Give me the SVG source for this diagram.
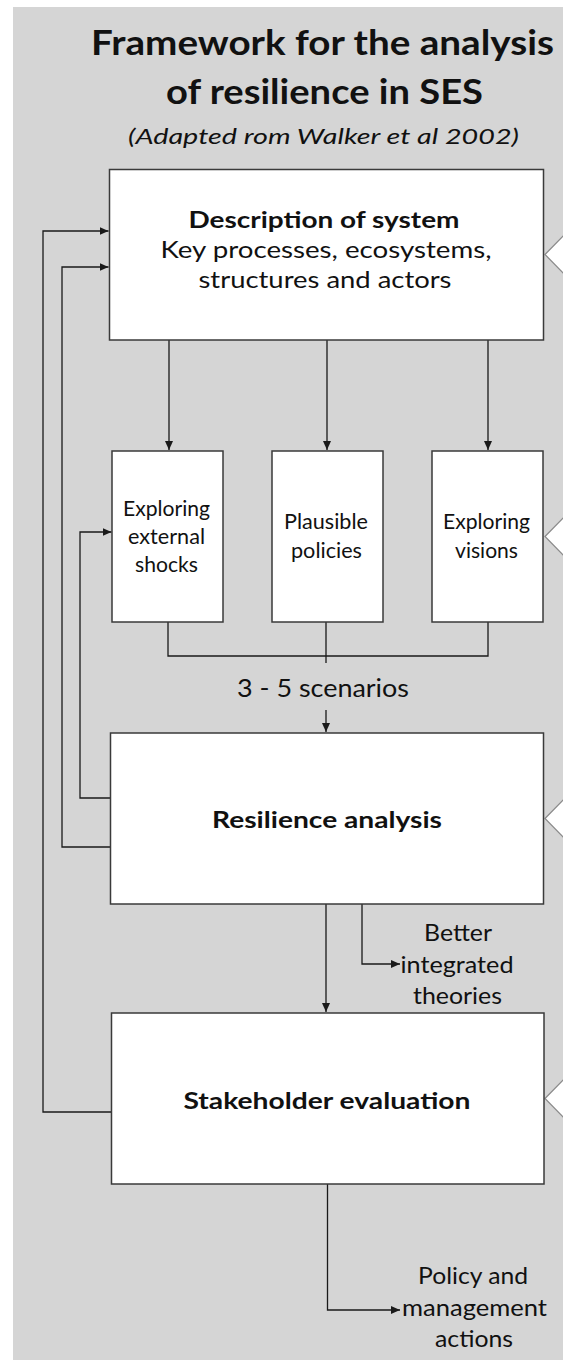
<svg xmlns="http://www.w3.org/2000/svg" width="563" height="1360" viewBox="0 0 563 1360">
<style>
.bg{fill:#d5d5d5}
.box{fill:#ffffff;stroke:#3a3a3a;stroke-width:1.5}
.chev{fill:#ffffff;stroke:#8a8a8a;stroke-width:1.2}
.ln{fill:none;stroke:#1a1a1a;stroke-width:1.3}
.t{font-family:Lato,"Liberation Sans",sans-serif;fill:#111;text-anchor:middle}
.b{font-weight:bold}
.i{font-style:italic}
</style>
<defs>
<marker id="ah" markerUnits="userSpaceOnUse" markerWidth="10" markerHeight="8" refX="9" refY="4" orient="auto">
<path d="M0,0 L9,4 L0,8 z" fill="#1a1a1a"/>
</marker>
</defs>
<rect class="bg" x="13" y="7" width="550" height="1353"/>

<g id="title">
<text class="t b" x="322.5" y="55" font-size="34" textLength="463" lengthAdjust="spacingAndGlyphs">Framework for the analysis</text>
<text class="t b" x="324.5" y="104" font-size="34" textLength="317" lengthAdjust="spacingAndGlyphs">of resilience in SES</text>
<text class="t i" x="323.5" y="144" font-size="22" textLength="391" lengthAdjust="spacingAndGlyphs">(Adapted rom Walker et al 2002)</text>
</g>

<g id="chevrons">
<polygon class="chev" points="545,254.5 566,233 566,276"/>
<polygon class="chev" points="545,536.5 566,515 566,558"/>
<polygon class="chev" points="545,818.5 566,797 566,840"/>
<polygon class="chev" points="545,1098.5 566,1077 566,1120"/>
</g>

<g id="connectors">
<path class="ln" d="M169,340 V450" marker-end="url(#ah)"/>
<path class="ln" d="M327,340 V450" marker-end="url(#ah)"/>
<path class="ln" d="M488,340 V450" marker-end="url(#ah)"/>
<path class="ln" d="M168,622 V656 H488 V622"/>
<path class="ln" d="M326,622 V663"/>
<path class="ln" d="M326,710 V732" marker-end="url(#ah)"/>
<path class="ln" d="M326,904 V1012" marker-end="url(#ah)"/>
<path class="ln" d="M362,904 V964 H400" marker-end="url(#ah)"/>
<path class="ln" d="M327.5,1184 V1310 H400" marker-end="url(#ah)"/>
<path class="ln" d="M111.5,1112 H43 V231 H108.5" marker-end="url(#ah)"/>
<path class="ln" d="M110.5,847 H62 V267 H108.5" marker-end="url(#ah)"/>
<path class="ln" d="M110.5,798 H80 V532 H111.5" marker-end="url(#ah)"/>
</g>

<g id="node-description">
<rect class="box" x="109.5" y="169.5" width="434" height="170.5"/>
<text class="t b" x="324" y="228" font-size="23" textLength="271" lengthAdjust="spacingAndGlyphs">Description of system</text>
<text class="t" x="326" y="258" font-size="24" textLength="331" lengthAdjust="spacingAndGlyphs">Key processes, ecosystems,</text>
<text class="t" x="325" y="288" font-size="24" textLength="253" lengthAdjust="spacingAndGlyphs">structures and actors</text>
</g>

<g id="node-shocks">
<rect class="box" x="112" y="451" width="111" height="171"/>
<text class="t" x="166.5" y="516" font-size="22" textLength="87" lengthAdjust="spacingAndGlyphs">Exploring</text>
<text class="t" x="166.5" y="544" font-size="22" textLength="77" lengthAdjust="spacingAndGlyphs">external</text>
<text class="t" x="166.5" y="572" font-size="22" textLength="63" lengthAdjust="spacingAndGlyphs">shocks</text>
</g>

<g id="node-policies">
<rect class="box" x="272" y="451" width="111" height="171"/>
<text class="t" x="326" y="529" font-size="22" textLength="84" lengthAdjust="spacingAndGlyphs">Plausible</text>
<text class="t" x="326.5" y="558" font-size="22" textLength="71" lengthAdjust="spacingAndGlyphs">policies</text>
</g>

<g id="node-visions">
<rect class="box" x="432" y="451" width="111" height="171"/>
<text class="t" x="486.5" y="529" font-size="22" textLength="87" lengthAdjust="spacingAndGlyphs">Exploring</text>
<text class="t" x="486.5" y="558" font-size="22" textLength="63" lengthAdjust="spacingAndGlyphs">visions</text>
</g>

<g id="label-scenarios">
<text class="t" x="323" y="697" font-size="25" textLength="172" lengthAdjust="spacingAndGlyphs">3 - 5 scenarios</text>
</g>

<g id="node-resilience">
<rect class="box" x="110.5" y="733" width="433" height="171"/>
<text class="t b" x="327" y="828" font-size="23" textLength="230" lengthAdjust="spacingAndGlyphs">Resilience analysis</text>
</g>

<g id="label-theories">
<text class="t" x="458" y="941" font-size="23" textLength="68" lengthAdjust="spacingAndGlyphs">Better</text>
<text class="t" x="457" y="973" font-size="23" textLength="113" lengthAdjust="spacingAndGlyphs">integrated</text>
<text class="t" x="457.5" y="1004" font-size="23" textLength="89" lengthAdjust="spacingAndGlyphs">theories</text>
</g>

<g id="node-stakeholder">
<rect class="box" x="111.5" y="1013" width="432.5" height="171"/>
<text class="t b" x="327" y="1109" font-size="23" textLength="287" lengthAdjust="spacingAndGlyphs">Stakeholder evaluation</text>
</g>

<g id="label-actions">
<text class="t" x="473" y="1284" font-size="23" textLength="110" lengthAdjust="spacingAndGlyphs">Policy and</text>
<text class="t" x="474.5" y="1316" font-size="23" textLength="145" lengthAdjust="spacingAndGlyphs">management</text>
<text class="t" x="474" y="1347" font-size="23" textLength="78" lengthAdjust="spacingAndGlyphs">actions</text>
</g>
</svg>
